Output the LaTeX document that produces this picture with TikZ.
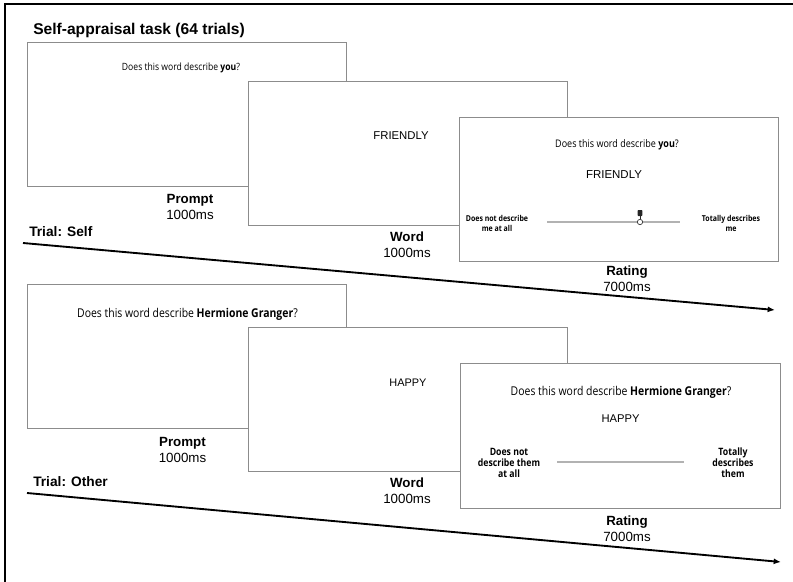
\documentclass[tikz,border=0pt]{standalone}
\usepackage{fontspec}
\setmainfont{Liberation Sans}
\newfontfamily\osans[FakeStretch=0.86]{Open Sans}
\usetikzlibrary{arrows.meta}
\tikzset{
  screen/.style={draw=black!45, line width=0.8pt, fill=white, anchor=north west,
    minimum width=239.25pt, minimum height=108pt, inner sep=0pt},
  frameline/.style={line width=1.5pt, black},
  timeline/.style={line width=1.4pt, black, -{Latex[length=5.5pt,width=4.5pt]}},
  phase/.style={align=center, font=\fontsize{10}{12}\selectfont, inner sep=0pt},
  trial/.style={anchor=west, inner sep=0pt, font=\fontsize{10.3}{12}\selectfont\bfseries},
  question/.style={inner sep=0pt, font=\osans\fontsize{#1}{#1}\selectfont},
  stim/.style={inner sep=0pt, font=\fontsize{#1}{#1}\selectfont},
  anchorlab/.style 2 args={inner sep=0pt, align=center, font=\osans\bfseries\fontsize{#1}{#2}\selectfont},
  slider/.style={line width=2pt, black!30},
}
\begin{document}
\begin{tikzpicture}[x=0.75pt, y=-0.75pt]
\useasboundingbox (0,0) rectangle (793,582);
% outer frame
\coordinate (fTL) at (5,4);
\coordinate (fTR) at (793,4);
\coordinate (fBL) at (5,582);
\draw[frameline] (fTR) -- (fTL) -- (fBL);

% title
\node[anchor=west, inner sep=0pt, font=\fontsize{11.7}{14}\selectfont\bfseries] (title) at (33,30) {Self-appraisal task (64 trials)};

% ---------- Self trial ----------
\node[screen] (s1) at (27,42) {};
\node[question=7.5pt] (s1q) at (181,68) {Does this word describe \textbf{you}?};
\node[phase] (s1l) at (190,207) {\textbf{Prompt}\\1000ms};

\node[screen] (s2) at (248,81) {};
\node[stim=8.5pt] (s2w) at (401,136) {FRIENDLY};
\node[phase] (s2l) at (407,245) {\textbf{Word}\\1000ms};

\node[screen] (s3) at (459,117) {};
\node[question=7.85pt] (s3q) at (617,145) {Does this word describe \textbf{you}?};
\node[stim=8.6pt] (s3w) at (614,175) {FRIENDLY};
\node[anchorlab={6.1pt}{6.9pt}] (s3a) at (497,223.5) {Does not describe\\me at all};
\node[anchorlab={6.1pt}{6.9pt}] (s3b) at (731,223.5) {Totally describes\\me};
\coordinate (s3sl) at (547,222);
\coordinate (s3sr) at (680,222);
\draw[slider] (s3sl) -- (s3sr);
\coordinate (s3m) at (640,222);
\node[circle, draw=black!80, fill=white, line width=0.5pt, minimum size=4pt, inner sep=0pt] (s3knob) at (s3m) {};
\node[fill=black!85, rounded corners=0.5pt, minimum width=3.5pt, minimum height=4.5pt, inner sep=0pt] (s3pin) at (640,213) {};
\draw[black!85, line width=0.5pt] (s3pin.south) -- (s3knob.north);
\node[phase] (s3l) at (627,278.5) {\textbf{Rating}\\7000ms};

\node[trial] (selfl) at (29,232) {Trial: Self};
\coordinate (sA) at (23,243);
\coordinate (sB) at (775,310);
\draw[timeline] (sA) -- (sB);

% ---------- Other trial ----------
\node[screen] (o1) at (27,284) {};
\node[question=9.1pt] (o1q) at (187.5,314) {Does this word describe \textbf{Hermione Granger}?};
\node[phase] (o1l) at (182.5,449.5) {\textbf{Prompt}\\1000ms};

\node[screen] (o2) at (248,327) {};
\node[stim=8.2pt] (o2w) at (408,383) {HAPPY};
\node[phase] (o2l) at (407,491) {\textbf{Word}\\1000ms};

\node[screen, minimum width=240pt, minimum height=108.75pt] (o3) at (460,363) {};
\node[question=9.1pt] (o3q) at (621,392) {Does this word describe \textbf{Hermione Granger}?};
\node[stim=8.4pt] (o3w) at (620.5,419) {HAPPY};
\node[anchorlab={7.6pt}{8.25pt}] (o3a) at (509,463) {Does not\\describe them\\at all};
\node[anchorlab={7.6pt}{8.25pt}] (o3b) at (733,463) {Totally\\describes\\them};
\coordinate (o3sl) at (557,462);
\coordinate (o3sr) at (684,462);
\draw[slider] (o3sl) -- (o3sr);
\node[phase] (o3l) at (627,529) {\textbf{Rating}\\7000ms};

\node[trial] (otherl) at (33,482) {Trial: Other};
\coordinate (oA) at (27,493);
\coordinate (oB) at (781,562);
\draw[timeline] (oA) -- (oB);
\end{tikzpicture}
\end{document}
